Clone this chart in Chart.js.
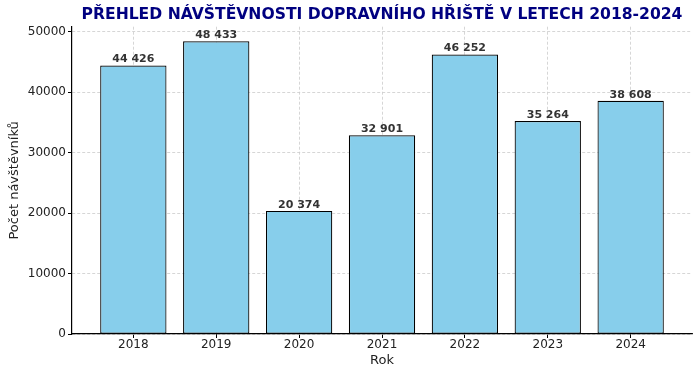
<!DOCTYPE html>
<html>
<head>
<meta charset="utf-8">
<script src="https://cdn.jsdelivr.net/npm/chart.js@4.4.1/dist/chart.umd.min.js"></script>
<style>
  html, body { margin: 0; padding: 0; background: #fff; }
  #wrap { width: 700px; height: 377px; }
</style>
</head>
<body>
<div id="wrap"><canvas id="chart"></canvas></div>
<script>
// chart data
const years = ['2018', '2019', '2020', '2021', '2022', '2023', '2024'];
const visitors = [44426, 48433, 20374, 32901, 46252, 35264, 38608];
const yTicks = [0, 10000, 20000, 30000, 40000, 50000];

const FONT = "'DejaVu Sans', sans-serif";

function formatNumber(v) {
    return String(v).replace(/\B(?=(\d{3})+(?!\d))/g, ' ');
}

// value labels above bars
const barLabels = {
    id: 'barLabels',
    afterDatasetsDraw(chart) {
        const ctx = chart.ctx;
        const meta = chart.getDatasetMeta(0);
        ctx.save();
        ctx.font = 'bold 11px ' + FONT;
        ctx.fillStyle = '#333333';
        ctx.textAlign = 'center';
        ctx.textBaseline = 'bottom';
        meta.data.forEach((bar, i) => {
            ctx.fillText(formatNumber(visitors[i]), bar.x, bar.y - 0.5);
        });
        ctx.restore();
    }
};

const ctx = document.getElementById('chart').getContext('2d');
new Chart(ctx, {
    type: 'bar',
    data: {
        datasets: [{
            data: visitors.map((v, i) => ({ x: i, y: v })),
            backgroundColor: '#87CEEB',
            borderColor: '#000000',
            borderWidth: 1.2,
            borderSkipped: false,
            barPercentage: 0.8,
            categoryPercentage: 1
        }]
    },
    options: {
        responsive: true,
        maintainAspectRatio: false,
        animation: false,
        layout: { padding: { left: 7, right: 8, top: 0, bottom: 9 } },
        plugins: {
            legend: { display: false },
            tooltip: { enabled: false },
            title: {
                display: true,
                fullSize: false,
                text: 'PŘEHLED NÁVŠTĚVNOSTI DOPRAVNÍHO HŘIŠTĚ V LETECH 2018-2024',
                color: '#000080',
                font: { family: FONT, size: 15.6, weight: 'bold' },
                padding: { top: 6, bottom: 2 }
            }
        },
        scales: {
            x: {
                type: 'linear',
                min: -0.74,
                max: 6.74,
                offset: false,
                afterFit(scale) { scale.height = 34; },
                afterBuildTicks(scale) { scale.ticks = years.map((y, i) => ({ value: i })); },
                ticks: {
                    autoSkip: false,
                    maxRotation: 0,
                    color: '#222222',
                    font: { family: FONT, size: 12 },
                    padding: 0,
                    callback: (v) => years[v]
                },
                grid: {
                    offset: false,
                    color: '#cccccc',
                    lineWidth: 0.8,
                    tickColor: '#000000',
                    tickLength: 4,
                    tickWidth: 1
                },
                border: { display: true, color: '#000000', width: 1.2, dash: [3, 2] },
                title: {
                    display: true,
                    text: 'Rok',
                    color: '#222222',
                    font: { family: FONT, size: 13 },
                    padding: { top: 0, bottom: 0 }
                }
            },
            y: {
                min: 0,
                max: 50855,
                afterFit(scale) { scale.width = 65; },
                afterBuildTicks(scale) { scale.ticks = yTicks.map(v => ({ value: v })); },
                ticks: {
                    autoSkip: false,
                    color: '#222222',
                    font: { family: FONT, size: 12 },
                    padding: 2,
                    callback: (v) => String(v)
                },
                grid: {
                    color: '#cccccc',
                    lineWidth: 0.8,
                    tickColor: '#000000',
                    tickLength: 4,
                    tickWidth: 1
                },
                border: { display: true, color: '#000000', width: 1.2, dash: [3, 2] },
                title: {
                    display: true,
                    text: 'Počet návštěvníků',
                    color: '#222222',
                    font: { family: FONT, size: 13 },
                    padding: { top: 0, bottom: 2 }
                }
            }
        }
    },
    plugins: [barLabels]
});
</script>
</body>
</html>
